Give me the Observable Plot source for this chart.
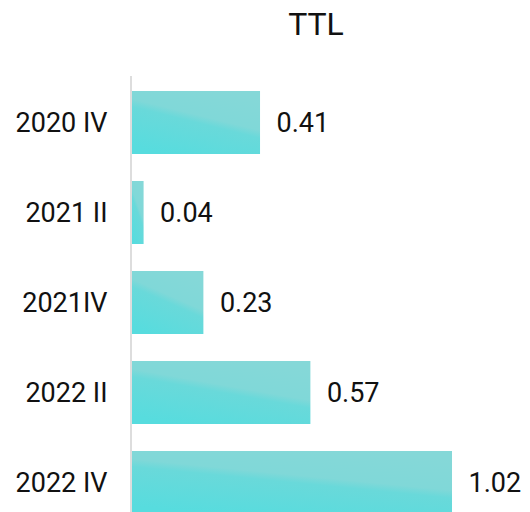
<!DOCTYPE html>
<html>
<head>
<meta charset="utf-8">
<script src="https://cdn.jsdelivr.net/npm/d3@7"></script>
<script src="https://cdn.jsdelivr.net/npm/@observablehq/plot@0.6"></script>
<style>
  html, body { margin: 0; padding: 0; background: #fff; }
  #chart { width: 530px; height: 512px; overflow: hidden; }
</style>
</head>
<body>
<div id="chart"></div>
<script>
const title = "TTL";
const categories = ["2020 IV", "2021 II", "2021IV", "2022 II", "2022 IV"];
const values = [0.41, 0.04, 0.23, 0.57, 1.02];
const labels = ["0.41", "0.04", "0.23", "0.57", "1.02"];

const data = categories.map((c, i) => ({cat: c, value: values[i], label: labels[i]}));

const gradientDefs = () => {
  const svg = d3.create("svg:defs");
  const g = svg.append("linearGradient")
    .attr("id", "barGrad")
    .attr("x1", "0.25").attr("y1", "1")
    .attr("x2", "0.75").attr("y2", "0");
  g.append("stop").attr("offset", "0%").attr("stop-color", "#57dcde");
  g.append("stop").attr("offset", "50%").attr("stop-color", "#69d9da");
  g.append("stop").attr("offset", "60%").attr("stop-color", "#80d8d8");
  g.append("stop").attr("offset", "100%").attr("stop-color", "#85d8d8");
  return svg.node();
};

const chart = Plot.plot({
  width: 530,
  height: 512,
  marginLeft: 131,
  marginRight: 30,
  marginTop: 76,
  marginBottom: -2,
  style: {fontFamily: "Roboto, sans-serif", fontSize: "27px", color: "#111", background: "#fff", overflow: "hidden"},
  x: {domain: [0, 1.1725], axis: null},
  y: {domain: categories, paddingInner: 0.3, paddingOuter: 0.083, align: 1, label: null},
  marks: [
    gradientDefs,
    Plot.barX(data, {x: "value", y: "cat", fill: "url(#barGrad)", insetLeft: 1}),
    Plot.ruleX([0], {stroke: "#dddddd", strokeWidth: 2, dx: -0.5}),
    Plot.axisY({tickSize: 0, tickPadding: 24, fontSize: 27, label: null}),
    Plot.text(data, {x: "value", y: "cat", text: "label", textAnchor: "start", dx: 16, fontSize: 27, fill: "#111"}),
    Plot.text([title], {frameAnchor: "top", lineAnchor: "middle", dy: -52, fontSize: 32, fill: "#111"})
  ]
});
document.getElementById("chart").appendChild(chart);
</script>
</body>
</html>
